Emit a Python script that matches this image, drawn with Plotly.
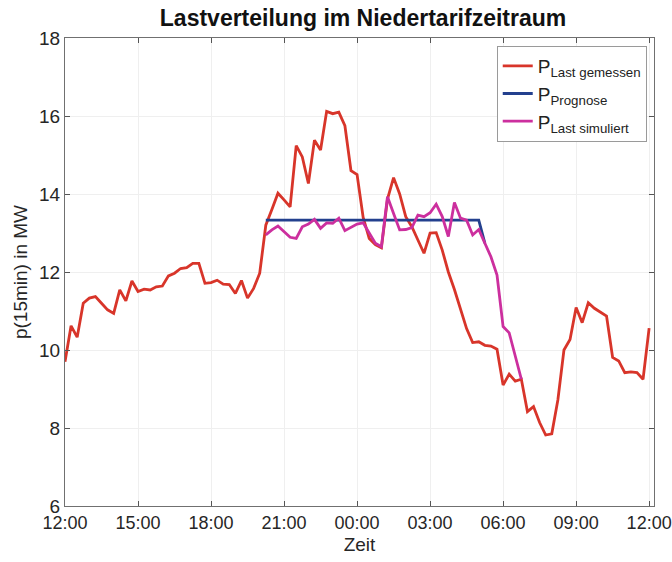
import pandas as pd
import plotly.graph_objects as go

# --- data (MW) ---
red_start = "2020-01-01 12:00"
p_last_gemessen = [
    9.70, 10.62, 10.33, 11.20, 11.33, 11.37, 11.20, 11.03, 10.94, 11.54,
    11.26, 11.77, 11.50, 11.56, 11.54, 11.62, 11.64, 11.90, 11.97, 12.09,
    12.11, 12.22, 12.22, 11.71, 11.73, 11.79, 11.69, 11.68, 11.45, 11.78,
    11.33, 11.58, 11.97, 13.20, 13.60, 14.02, 13.85, 13.67, 15.24, 14.95,
    14.27, 15.38, 15.13, 16.12, 16.06, 16.10, 15.75, 14.60, 14.50, 13.40,
    12.86, 12.70, 12.62, 13.87, 14.42, 14.00, 13.42, 13.16, 12.82, 12.48,
    13.00, 13.01, 12.56, 12.00, 11.55, 11.05, 10.55, 10.19, 10.21, 10.12,
    10.10, 10.02, 9.10, 9.38, 9.20, 9.25, 8.42, 8.55, 8.14, 7.82,
    7.85, 8.72, 10.00, 10.27, 11.09, 10.70, 11.21, 11.07, 10.98, 10.87,
    9.81, 9.72, 9.42, 9.44, 9.42, 9.25, 10.56,
]

sim_start = "2020-01-01 20:15"
p_last_simuliert = [
    12.95, 13.08, 13.18, 13.03, 12.89, 12.86, 13.16, 13.23, 13.35, 13.12,
    13.26, 13.25, 13.38, 13.06, 13.15, 13.23, 13.26, 13.00, 12.74, 12.65,
    13.93, 13.50, 13.08, 13.09, 13.14, 13.46, 13.42, 13.52, 13.74, 13.42,
    12.91, 13.78, 13.38, 13.33, 12.95, 13.09, 12.74, 12.39, 11.92, 10.60,
    10.44, 9.83, 9.25,
]

prognose_times = ["2020-01-01 20:15", "2020-01-02 05:00", "2020-01-02 05:15"]
p_prognose = [13.33, 13.33, 12.74]

tick_labels = ["12:00", "15:00", "18:00", "21:00", "00:00", "03:00", "06:00", "09:00", "12:00"]
tick_vals = pd.date_range("2020-01-01 12:00", periods=len(tick_labels), freq="3h")

t_red = pd.date_range(red_start, periods=len(p_last_gemessen), freq="15min")
t_sim = pd.date_range(sim_start, periods=len(p_last_simuliert), freq="15min")

FONT = "Liberation Sans, Arial, Helvetica, sans-serif"

fig = go.Figure()
fig.add_trace(go.Scatter(x=t_red, y=p_last_gemessen, mode="lines",
                         name="P<sub>Last gemessen</sub>",
                         line=dict(color="#d8352a", width=2.8)))
fig.add_trace(go.Scatter(x=pd.to_datetime(prognose_times), y=p_prognose, mode="lines",
                         name="P<sub>Prognose</sub>",
                         line=dict(color="#23408e", width=2.8)))
fig.add_trace(go.Scatter(x=t_sim, y=p_last_simuliert, mode="lines",
                         name="P<sub>Last simuliert</sub>",
                         line=dict(color="#cc2f9e", width=2.8)))

fig.update_layout(
    width=672, height=562,
    margin=dict(l=65, r=18, t=38, b=56, autoexpand=False),
    paper_bgcolor="white", plot_bgcolor="white",
    font=dict(family=FONT, size=19, color="#262626"),
    title=dict(text="<b>Lastverteilung im Niedertarifzeitraum</b>",
               x=0.506, xanchor="center", y=1 - 18 / 562, yanchor="middle",
               xref="paper", yref="container",
               font=dict(size=23, color="#111111")),
    showlegend=True,
    legend=dict(x=0.733, y=0.983, xanchor="left", yanchor="top",
                bgcolor="white", bordercolor="#9a9a9a", borderwidth=1,
                font=dict(size=19, color="#222222"),
                itemwidth=30, tracegroupgap=0),
)
fig.update_xaxes(
    type="date", automargin=False,
    range=[pd.Timestamp("2020-01-01 12:00"), pd.Timestamp("2020-01-02 12:12")],
    tickvals=tick_vals, ticktext=tick_labels,
    ticks="inside", ticklen=5, tickcolor="#555555",
    showline=True, linecolor="#707070", linewidth=1, mirror="ticks",
    showgrid=True, gridcolor="#efefef", gridwidth=1,
    title=dict(text="Zeit", standoff=6, font=dict(size=19)),
    tickfont=dict(size=18), zeroline=False,
)
fig.update_yaxes(
    automargin=False,
    range=[6, 18], dtick=2, tick0=6,
    ticks="inside", ticklen=5, tickcolor="#555555",
    showline=True, linecolor="#707070", linewidth=1, mirror="ticks",
    showgrid=True, gridcolor="#efefef", gridwidth=1,
    title=dict(text="p(15min) in MW", standoff=6, font=dict(size=19)),
    tickfont=dict(size=19), zeroline=False,
)

fig.write_html("out.html",
               config={"displayModeBar": False},
               post_script="document.body.style.margin='0px';document.body.style.padding='0px';")
